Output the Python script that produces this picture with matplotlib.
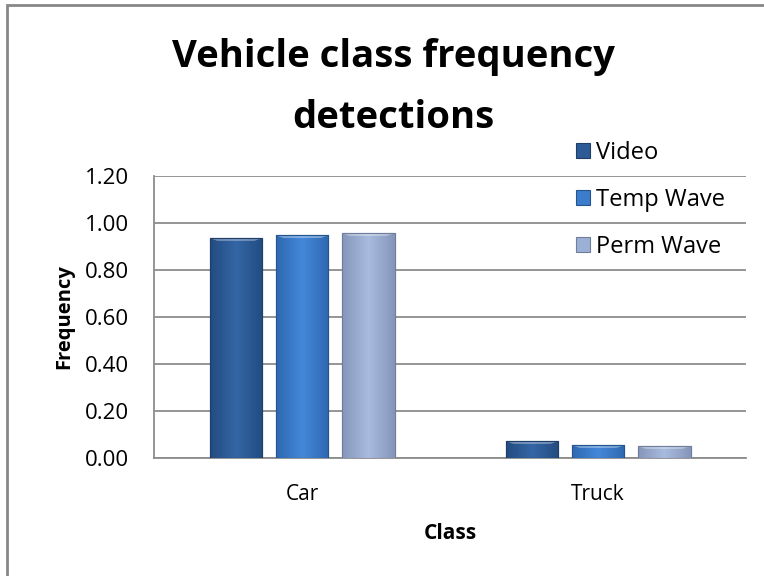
import matplotlib
matplotlib.use("Agg")
import matplotlib.pyplot as plt
import numpy as np
from matplotlib.patches import Rectangle
from matplotlib.colors import LinearSegmentedColormap

categories = ["Car", "Truck"]
series_names = ["Video", "Temp Wave", "Perm Wave"]
video = [0.936, 0.072]
temp_wave = [0.948, 0.055]
perm_wave = [0.957, 0.051]
yticks = [0.0, 0.2, 0.4, 0.6, 0.8, 1.0, 1.2]

series = [video, temp_wave, perm_wave]
colors = ["#2C5B95", "#3B7CCB", "#9CB0D6"]
edge_colors = ["#1E3F68", "#25558F", "#6E7E9C"]
grad = [("#234C80", "#3466A6", "#234C80"),
        ("#2F68B0", "#4488DA", "#2F68B0"),
        ("#8596BA", "#A8BCE0", "#8596BA")]

plt.rcParams['font.family'] = ['Open Sans', 'DejaVu Sans']
fig = plt.figure(figsize=(7.64, 5.76), dpi=100)

# outer chart frame
fig.patches.append(Rectangle((7/764, -0.1), 1.2, 1 - 5/576 + 0.1, transform=fig.transFigure,
                             fill=False, edgecolor="#878787", linewidth=2.0))

ax = fig.add_axes([154/764, 1 - 458/576, (746 - 154)/764, (458 - 176)/576])

x = np.arange(len(categories))
width = 0.179
offset = 0.223
for i, (vals, name) in enumerate(zip(series, series_names)):
    bars = ax.bar(x + (i - 1) * offset, vals, width, color=colors[i], edgecolor=edge_colors[i],
                  linewidth=0.8, label=name, zorder=3)
    cmap = LinearSegmentedColormap.from_list("g%d" % i, list(grad[i]))
    g = np.linspace(0, 1, 64).reshape(1, -1)
    for b in bars:
        x0, y0, w, h = b.get_x(), b.get_y(), b.get_width(), b.get_height()
        im = ax.imshow(g, extent=(x0, x0 + w, y0, y0 + h), aspect='auto', cmap=cmap,
                       zorder=3.5, interpolation='bicubic')
        im.set_clip_path(b)
        # top bevel highlight
        bev = min(0.012, h * 0.25)
        ax.fill([x0, x0 + w, x0 + w * 0.85, x0 + w * 0.15],
                [y0 + h, y0 + h, y0 + h - bev, y0 + h - bev],
                color="white", alpha=0.35, zorder=3.6, linewidth=0)
        ax.add_patch(Rectangle((x0, y0), w, h, fill=False, edgecolor=edge_colors[i],
                               linewidth=0.8, zorder=3.7))

ax.set_xlim(-0.5, 1.5)
ax.set_ylim(0, 1.2)
ax.set_yticks(yticks)
ax.set_yticklabels(["%.2f" % t for t in yticks], fontsize=16)
ax.set_xticks(x)
ax.set_xticklabels(categories, fontsize=15)
ax.tick_params(axis='y', length=0, pad=18)
ax.tick_params(axis='x', length=0, pad=19)
ax.yaxis.grid(True, color="#8C8C8C", linewidth=1.3, zorder=0)
ax.set_axisbelow(True)
for s in ["top", "right"]:
    ax.spines[s].set_visible(False)
ax.spines["left"].set_color("#8C8C8C")
ax.spines["left"].set_linewidth(1.3)
ax.spines["bottom"].set_color("#8C8C8C")
ax.spines["bottom"].set_linewidth(1.3)

ax.set_ylabel("Frequency", fontsize=14.5, fontweight="bold", labelpad=8)
ax.set_xlabel("Class", fontsize=15, fontweight="bold", labelpad=13)

fig.text(393/764, 1 - 67/576, "Vehicle class frequency", ha="center", va="baseline",
         fontsize=27.5, fontweight="bold")
fig.text(393/764, 1 - 128/576, "detections", ha="center", va="baseline",
         fontsize=27.5, fontweight="bold")

leg = ax.legend(loc="upper left", bbox_to_anchor=(576/764, 1 - 141/576), bbox_transform=fig.transFigure,
                frameon=False, fontsize=17, handlelength=0.6, handleheight=0.6,
                handletextpad=0.25, labelspacing=0.98, borderaxespad=0, borderpad=0)

fig.savefig("out.png", dpi=100)
